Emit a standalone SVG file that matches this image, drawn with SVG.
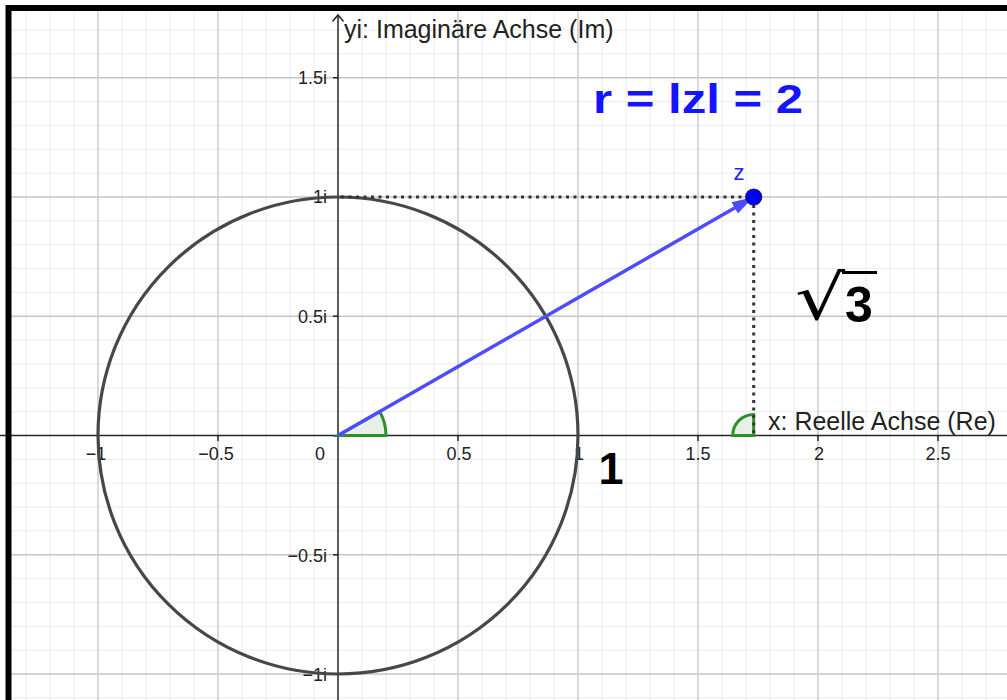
<svg xmlns="http://www.w3.org/2000/svg" width="1007" height="700" viewBox="0 0 1007 700">
<defs>
<style>
.minor{stroke:#ececec;stroke-width:1;fill:none}
.major{stroke:#c6c6c6;stroke-width:1.3;fill:none}
.axis{stroke:#262626;stroke-width:1.5;fill:none}
.tick{font-family:"Liberation Sans",Arial,sans-serif;font-size:18px;fill:#222}
.alabel{font-family:"Liberation Sans",Arial,sans-serif;font-size:25px;fill:#222}
.dots{stroke:#333;stroke-width:3;stroke-dasharray:3 4.5;fill:none}
.angle{fill:#e6f0e6;stroke:#2f8f2f;stroke-width:3}
</style>
<clipPath id="frame"><rect x="11" y="11" width="996" height="689"/></clipPath>
<marker id="vhead" markerUnits="userSpaceOnUse" markerWidth="24" markerHeight="14" refX="22" refY="6.5" orient="auto">
<path d="M0,0 L22,6.5 L0,13 Z" fill="#4d4dff"/>
</marker>
</defs>
<rect width="1007" height="700" fill="#fff"/>
<g id="grid" clip-path="url(#frame)">
<path class="minor" d="M26,0V700M50,0V700M74,0V700M122,0V700M146,0V700M170,0V700M194,0V700M242,0V700M266,0V700M290,0V700M314,0V700M362,0V700M386,0V700M410,0V700M434,0V700M482,0V700M506,0V700M530,0V700M554,0V700M602,0V700M626,0V700M650,0V700M674,0V700M722,0V700M746,0V700M770,0V700M794,0V700M842,0V700M866,0V700M890,0V700M914,0V700M962,0V700M986,0V700"/>
<path class="minor" d="M0,30.05H1007M0,53.9H1007M0,101.6H1007M0,125.45H1007M0,149.3H1007M0,173.15H1007M0,220.85H1007M0,244.7H1007M0,268.55H1007M0,292.4H1007M0,340.1H1007M0,363.95H1007M0,387.8H1007M0,411.65H1007M0,459.35H1007M0,483.2H1007M0,507.05H1007M0,530.9H1007M0,578.6H1007M0,602.45H1007M0,626.3H1007M0,650.15H1007M0,697.85H1007"/>
<path class="major" d="M98,0V700M218,0V700M458,0V700M578,0V700M698,0V700M818,0V700M938,0V700M0,77.75H1007M0,197H1007M0,316.25H1007M0,554.75H1007M0,674H1007"/>
</g>
<g id="axes">
<path class="axis" d="M0,435.5H1007M338,15V700"/>
<path class="axis" d="M332.5,21.5L338,15L343.5,21.5"/>
<path class="axis" d="M333,77.75H338M333,197H338M333,316.25H338M333,554.75H338M333,674H338M98,435.5V441M218,435.5V441M458,435.5V441M578,435.5V441M698,435.5V441M818,435.5V441M938,435.5V441"/>
<text class="alabel" x="344" y="38">yi: Imaginäre Achse (Im)</text>
<text class="alabel" x="768" y="430">x: Reelle Achse (Re)</text>
<g class="tick" text-anchor="end">
<text x="327" y="84">1.5i</text>
<text x="327" y="203">1i</text>
<text x="327" y="323">0.5i</text>
<text x="327" y="562">−0.5i</text>
<text x="327" y="681">−1i</text>
</g>
<g class="tick" text-anchor="middle">
<text x="96" y="460">−1</text>
<text x="216" y="460">−0.5</text>
<text x="320" y="460">0</text>
<text x="459" y="460">0.5</text>
<text x="579" y="460">1</text>
<text x="698" y="460">1.5</text>
<text x="819" y="460">2</text>
<text x="938" y="460">2.5</text>
</g>
</g>
<g id="circle">
<ellipse cx="338" cy="435.5" rx="240" ry="238.5" fill="none" stroke="#474747" stroke-width="3.2"/>
</g>
<g id="angle-origin">
<path class="angle" d="M338,435.5 L386,435.5 A48,48 0 0 0 379.6,411.6 Z"/>
</g>
<g id="angle-right">
<path class="angle" d="M753.7,435.5 L753.7,414.5 A21,21 0 0 0 732.7,435.5 Z"/>
</g>
<g id="connectors">
<path class="dots" d="M341,197H753.7"/>
<path class="dots" d="M753.7,205V436"/>
<line x1="338" y1="435.5" x2="753.7" y2="197" stroke="#4d4dff" stroke-width="3.5" marker-end="url(#vhead)"/>
</g>
<g id="point-z">
<circle cx="753.7" cy="197" r="8" fill="#0000ff" stroke="#1a1a66" stroke-width="1.2"/>
<text x="739" y="180" text-anchor="middle" font-family="'Liberation Sans',Arial,sans-serif" font-size="22" fill="#2020ff">z</text>
</g>
<g id="label-r">
<text x="593" y="113" font-family="'Liberation Sans',Arial,sans-serif" font-weight="bold" font-size="40" fill="#1414ff" textLength="210" lengthAdjust="spacingAndGlyphs">r = lzl = 2</text>
</g>
<g id="label-sqrt3">
<text transform="translate(795,319) scale(1.27,1)" font-family="'DejaVu Serif',serif" font-size="62" fill="#000">√</text>
<line x1="842" y1="272.5" x2="877" y2="272.5" stroke="#000" stroke-width="3"/>
<text x="845" y="322" font-family="'Liberation Sans',Arial,sans-serif" font-weight="bold" font-size="50" fill="#000">3</text>
</g>
<g id="label-one">
<text x="611" y="484" text-anchor="middle" font-family="'Liberation Sans',Arial,sans-serif" font-weight="bold" font-size="45" fill="#000">1</text>
</g>
<rect x="8.5" y="8" width="1100" height="800" fill="none" stroke="#000" stroke-width="6"/>
</svg>
